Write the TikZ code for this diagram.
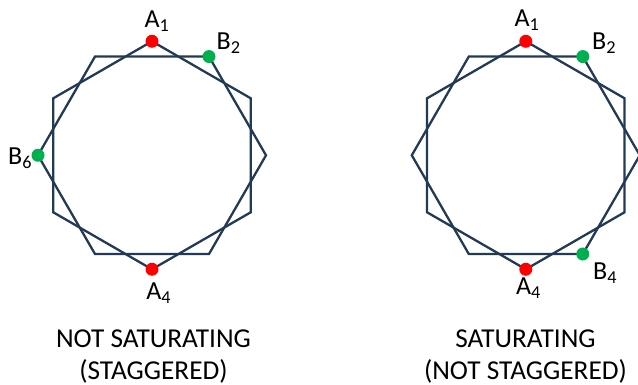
\documentclass[tikz,border=0pt]{standalone}
\usepackage{fontspec}
\setmainfont{Carlito}
\usetikzlibrary{calc}
\definecolor{hexcol}{HTML}{233A55}
\definecolor{dotred}{HTML}{FF0000}
\definecolor{dotgreen}{HTML}{00B050}
\tikzset{
  hexline/.style={draw=hexcol, line width=2.3pt, line join=miter},
  reddot/.style={circle, fill=dotred, minimum size=13pt, inner sep=0pt},
  greendot/.style={circle, fill=dotgreen, minimum size=13pt, inner sep=0pt},
  vlabel/.style={anchor=base west, inner sep=0pt, font=\fontsize{26}{30}\selectfont},
  caption/.style={anchor=base, inner sep=0pt, font=\fontsize{27.3}{31}\selectfont}
}
\begin{document}
\begin{tikzpicture}[x=1pt,y=1pt]
\useasboundingbox (0,0) rectangle (638,385);
\coordinate (L) at (152,229.7);
\coordinate (R) at (525.8,229.7);
\foreach \c in {L,R}{
  \foreach \i in {1,...,6}{
    \coordinate (\c A\i) at ($(\c)+({90-60*(\i-1)}:114)$);
    \coordinate (\c B\i) at ($(\c)+({120-60*(\i-1)}:114)$);
  }
}
\foreach \c in {L,R}{
  \draw[hexline] (\c A1) -- (\c A2) -- (\c A3) -- (\c A4) -- (\c A5) -- (\c A6) -- cycle;
  \draw[hexline] (\c B1) -- (\c B2) -- (\c B3) -- (\c B4) -- (\c B5) -- (\c B6) -- cycle;
}
% left figure dots
\node[reddot] (dLA1) at (LA1) {};
\node[reddot] (dLA4) at (LA4) {};
\node[greendot] (dLB2) at (LB2) {};
\node[greendot] (dLB6) at (LB6) {};
% right figure dots
\node[reddot] (dRA1) at (RA1) {};
\node[reddot] (dRA4) at (RA4) {};
\node[greendot] (dRB2) at (RB2) {};
\node[greendot] (dRB4) at (RB4) {};
% left labels
\node[vlabel] (tLA1) at (144.5,357.7) {A\textsubscript{1}};
\node[vlabel] (tLB2) at (216.5,335) {B\textsubscript{2}};
\node[vlabel] (tLB6) at (8,220) {B\textsubscript{6}};
\node[vlabel] (tLA4) at (146.2,85.7) {A\textsubscript{4}};
% right labels
\node[vlabel] (tRA1) at (514.5,358.3) {A\textsubscript{1}};
\node[vlabel] (tRB2) at (592,335) {B\textsubscript{2}};
\node[vlabel] (tRA4) at (516,90) {A\textsubscript{4}};
\node[vlabel] (tRB4) at (593,105) {B\textsubscript{4}};
% captions
\node[caption] (capL1) at (153.5,37) {NOT SATURATING};
\node[caption] (capL2) at (153.5,5.7) {(STAGGERED)};
\node[caption] (capR1) at (525.5,37) {SATURATING};
\node[caption] (capR2) at (525.5,5.7) {(NOT STAGGERED)};
\end{tikzpicture}
\end{document}
